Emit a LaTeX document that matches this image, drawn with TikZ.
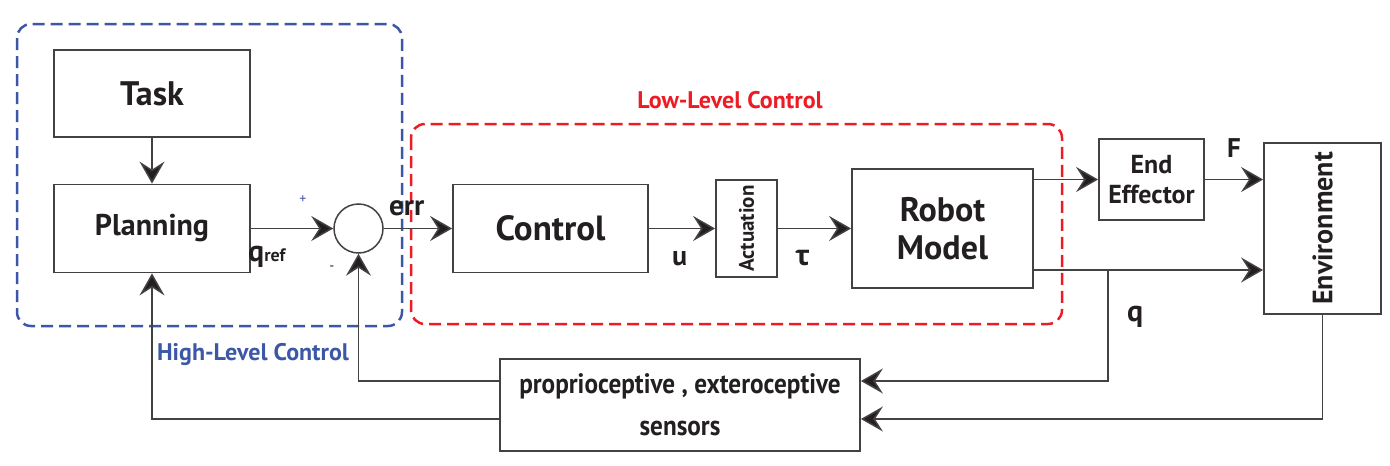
\documentclass[tikz,border=0pt]{standalone}
\usepackage{fontspec}
\setmainfont{PT Sans}
\newfontfamily\gk{Open Sans}
\usetikzlibrary{arrows.meta}
\definecolor{hlblue}{RGB}{59,87,166}
\definecolor{llred}{RGB}{237,28,36}
\definecolor{ink}{RGB}{35,31,32}
\begin{document}
\begin{tikzpicture}[x=1pt,y=-1pt,
  box/.style={draw=ink!85, line width=1.8pt, rectangle, inner sep=0pt, align=center, text=ink},
  arr/.style={draw=ink!85, line width=1.5pt, -{Stealth[length=22pt,width=25pt,inset=8pt,fill=ink]}},
  grp/.style={dash pattern=on 12pt off 6pt, line width=2.5pt, rounded corners=14pt},
  lbl/.style={inner sep=0pt, text=ink}]
\useasboundingbox (0,0) rectangle (1390,466);
% group frames
\draw[grp, hlblue] (17,24) rectangle (402,326);
\draw[grp, llred] (411,124) rectangle (1062,324);
\node[lbl, text=llred, font=\fontsize{24}{28}\selectfont\bfseries] (ll) at (730,100) {Low-Level Control};
\node[lbl, text=hlblue, font=\fontsize{24}{28}\selectfont\bfseries] (hl) at (253,354) {High-Level Control};
% blocks
\node[box, minimum width=196pt, minimum height=87pt, font=\fontsize{34}{40}\selectfont\bfseries] (task) at (152,93.5) {Task};
\node[box, minimum width=196pt, minimum height=88pt, font=\fontsize{30}{36}\selectfont\bfseries] (plan) at (152,228.5) {Planning};
\node[draw=ink!85, line width=1.5pt, circle, minimum size=49pt, inner sep=0pt] (sum) at (358.5,228.5) {};
\node[box, minimum width=195pt, minimum height=88pt, font=\fontsize{35}{40}\selectfont\bfseries] (ctrl) at (550.5,228.5) {Control};
\node[box, minimum width=61pt, minimum height=97pt] (act) at (746.5,228.5) {};
\node[lbl, rotate=90, font=\fontsize{21}{24}\selectfont\bfseries] (acttxt) at (act.center) {Actuation};
\node[box, minimum width=181pt, minimum height=119pt, font=\fontsize{34}{38}\selectfont\bfseries] (rob) at (942.5,228.5) {Robot\\Model};
\node[box, minimum width=105pt, minimum height=81pt, font=\fontsize{26}{30}\selectfont\bfseries] (ee) at (1151.5,179.5) {End\\Effector};
\node[box, minimum width=117pt, minimum height=171pt] (env) at (1322.5,228.5) {};
\node[lbl, rotate=90, font=\fontsize{28}{32}\selectfont\bfseries] (envtxt) at (env.center) {Environment};
\node[box, minimum width=360pt, minimum height=92pt, font=\fontsize{28}{42}\selectfont\bfseries] (sens) at (680,405) {\scalebox{0.9}[1]{proprioceptive , exteroceptive}\\\scalebox{0.9}[1]{sensors}};
% connectors
\draw[arr] (task) -- (plan);
\draw[arr] (plan) -- (sum);
\draw[arr] (sum) -- (ctrl);
\draw[arr] (ctrl) -- (act);
\draw[arr] (act) -- (rob);
\draw[arr] (rob.east |- ee.west) -- (ee.west);
\draw[arr] (ee.east) -- (env.west |- ee.east);
\coordinate (br) at (1108,270);
\draw[arr] (rob.east |- br) -- (env.west |- br);
\draw[arr] (br) |- ([yshift=24pt]sens.east);
\draw[arr] (env.south) |- ([yshift=-14pt]sens.east);
\draw[arr] ([yshift=24pt]sens.west) -| (sum.south);
\draw[arr] ([yshift=-14pt]sens.west) -| (plan.south);
% labels
\node[lbl, anchor=base west, font=\fontsize{30}{32}\selectfont\bfseries] (qref) at (248,261) {q{\fontsize{18}{20}\selectfont ref}};
\node[lbl, text=hlblue, font=\fontsize{14}{16}\selectfont] (plus) at (303,200) {+};
\node[lbl, font=\fontsize{14}{16}\selectfont] (minus) at (332,268) {-};
\node[lbl, anchor=base west, font=\fontsize{29}{32}\selectfont\bfseries] (err) at (389,215) {err};
\node[lbl, anchor=base west, font=\fontsize{28}{30}\selectfont\bfseries] (u) at (672,265) {u};
\node[lbl, anchor=base west, font=\fontsize{28}{30}\selectfont\bfseries\gk] (tau) at (795,265) {τ};
\node[lbl, anchor=base west, font=\fontsize{27}{30}\selectfont\bfseries] (F) at (1227,157) {F};
\node[lbl, anchor=base west, font=\fontsize{30}{32}\selectfont\bfseries] (q) at (1127,321) {q};
\end{tikzpicture}
\end{document}
